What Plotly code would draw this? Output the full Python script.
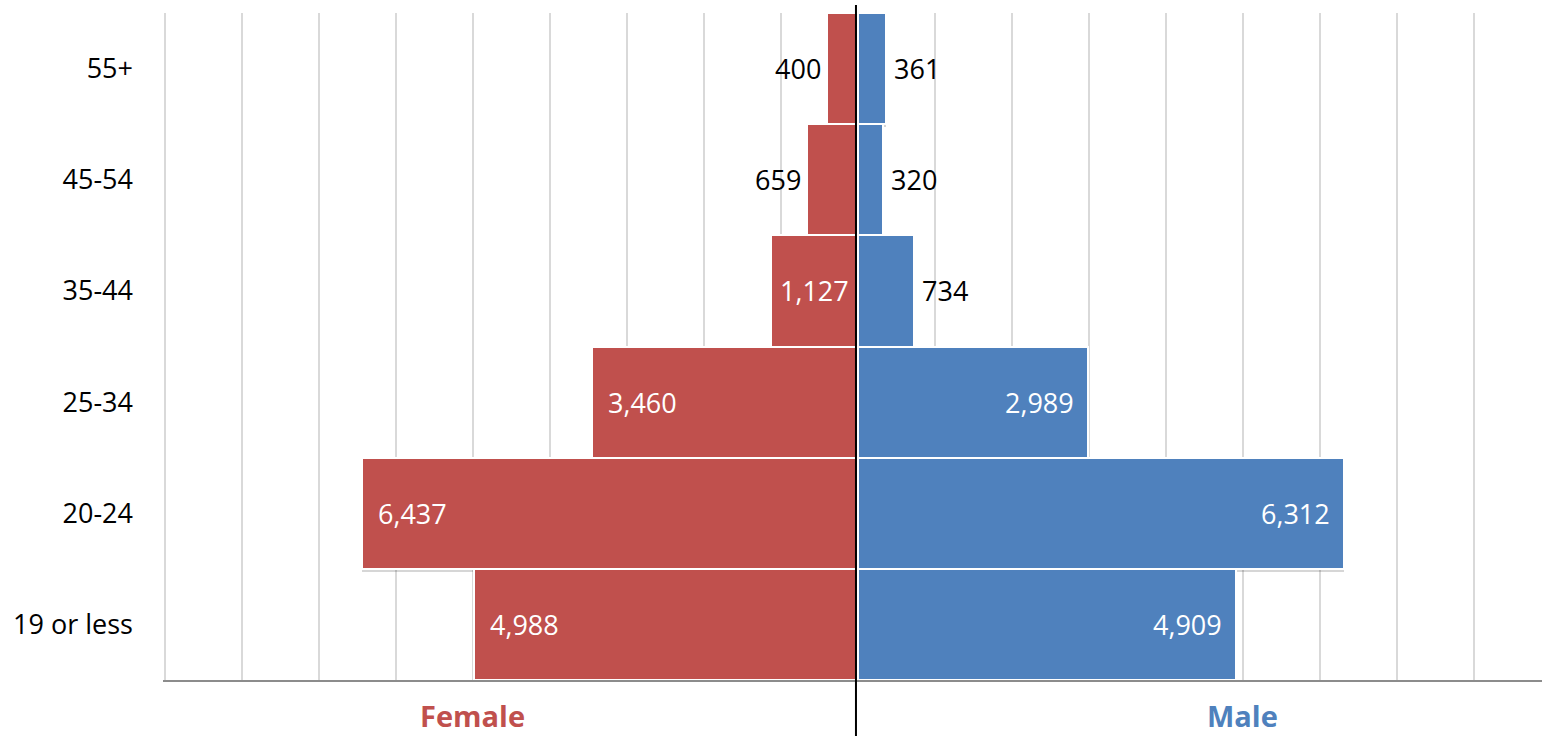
import plotly.graph_objects as go

categories = ["19 or less", "20-24", "25-34", "35-44", "45-54", "55+"]
female = [4988, 6437, 3460, 1127, 659, 400]
male = [4909, 6312, 2989, 734, 320, 361]
female_inside = [True, True, True, True, False, False]
male_inside = [True, True, True, False, False, False]

RED = "#C0504D"
BLUE = "#4F81BD"
FONT = "Open Sans"
FS = 27
W, H = 1542, 736
ML, MR, MT, MB = 163, 0, 13, 56
XMIN, XMAX = -9025, 8883
px_per_unit = (W - ML - MR) / (XMAX - XMIN)
band_px = (H - MT - MB) / len(categories)
shadow_shift = 3 / band_px

fig = go.Figure()
# soft shadows
for vals, sign in ((female, -1), (male, 1)):
    fig.add_trace(go.Bar(
        y=categories, x=[sign * v for v in vals], orientation="h",
        width=1, offset=-0.5 - shadow_shift,
        marker=dict(color="rgba(0,0,0,0.16)", line=dict(width=0)),
        hoverinfo="skip", showlegend=False,
    ))
fig.add_trace(go.Bar(
    y=categories, x=[-v for v in female], orientation="h", width=1, offset=-0.5,
    marker=dict(color=RED, line=dict(color="white", width=2)),
    name="Female", hoverinfo="skip",
))
fig.add_trace(go.Bar(
    y=categories, x=male, orientation="h", width=1, offset=-0.5,
    marker=dict(color=BLUE, line=dict(color="white", width=2)),
    name="Male", hoverinfo="skip",
))

annotations = []
for cat, v, inside in zip(categories, female, female_inside):
    txt = f"{v:,}"
    if inside:
        if v * px_per_unit < 110:
            annotations.append(dict(x=-v / 2, y=cat, text=txt, xanchor="center", showarrow=False,
                                    font=dict(color="white", size=FS, family=FONT)))
        else:
            annotations.append(dict(x=-v, y=cat, text=txt, xanchor="left", xshift=14, showarrow=False,
                                    font=dict(color="white", size=FS, family=FONT)))
    else:
        annotations.append(dict(x=-v, y=cat, text=txt, xanchor="right", xshift=-4, showarrow=False,
                                font=dict(color="black", size=FS, family=FONT)))
for cat, v, inside in zip(categories, male, male_inside):
    txt = f"{v:,}"
    if inside:
        annotations.append(dict(x=v, y=cat, text=txt, xanchor="right", xshift=-12, showarrow=False,
                                font=dict(color="white", size=FS, family=FONT)))
    else:
        annotations.append(dict(x=v, y=cat, text=txt, xanchor="left", xshift=6, showarrow=False,
                                font=dict(color="black", size=FS, family=FONT)))

annotations.append(dict(x=-5000, y=-35 / (H - MT - MB), yref="paper", text="<b>Female</b>",
                        showarrow=False, yanchor="middle", font=dict(color=RED, size=29, family=FONT)))
annotations.append(dict(x=5000, y=-35 / (H - MT - MB), yref="paper", text="<b>Male</b>",
                        showarrow=False, yanchor="middle", font=dict(color=BLUE, size=29, family=FONT)))

fig.update_layout(
    width=W, height=H,
    margin=dict(l=ML, r=MR, t=MT, b=MB, pad=0),
    barmode="overlay", bargap=0,
    plot_bgcolor="white", paper_bgcolor="white",
    showlegend=False,
    font=dict(family=FONT, size=FS, color="black"),
    annotations=annotations,
    xaxis=dict(range=[XMIN, XMAX], dtick=1000, tick0=0, showticklabels=False,
               showgrid=True, gridcolor="#D9D9D9", gridwidth=2, zeroline=False,
               showline=True, linecolor="#8C8C8C", linewidth=2, ticks=""),
    yaxis=dict(range=[-0.5, 5.5], showgrid=False, zeroline=False, showline=False,
               ticks="", ticklabelstandoff=29, tickfont=dict(size=FS, family=FONT, color="black")),
    shapes=[dict(type="line", xref="x", yref="paper", xsizemode="pixel", xanchor=0,
                 x0=-2, x1=-2, y0=-0.1, y1=1.012, line=dict(color="black", width=2))],
)

fig.write_html("out.html", config={"displayModeBar": False},
               post_script="document.body.style.margin='0';document.body.style.overflow='hidden';")
